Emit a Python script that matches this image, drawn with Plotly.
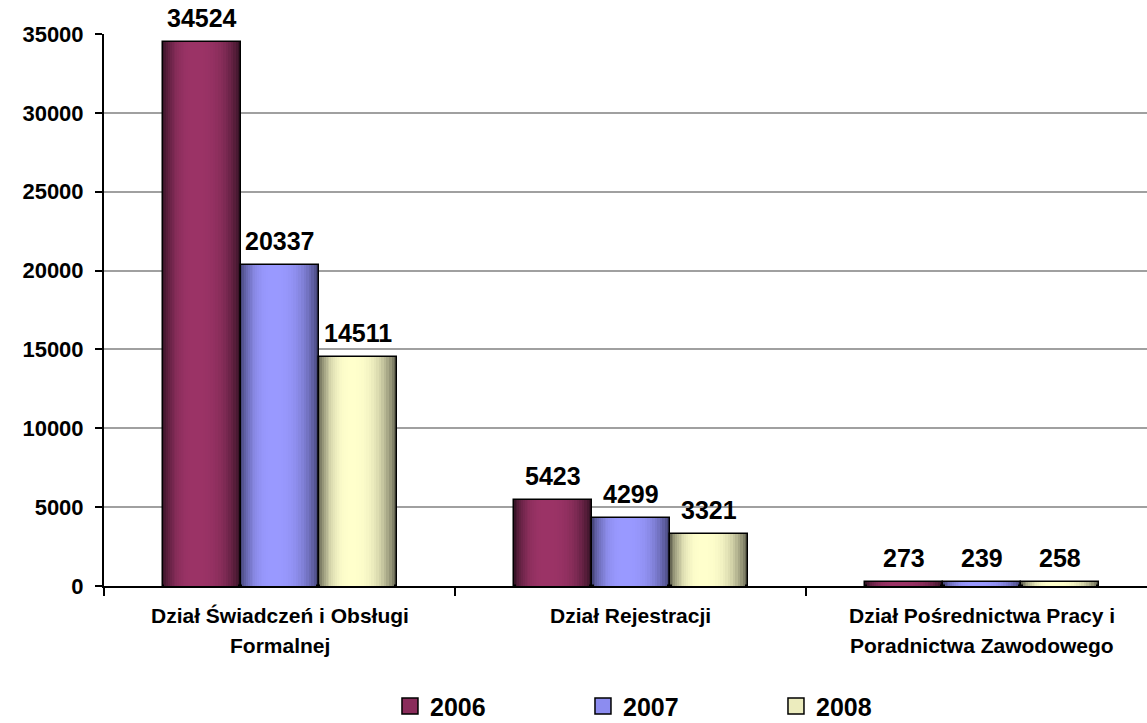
import plotly.graph_objects as go

categories = ["Dział Świadczeń i Obsługi Formalnej", "Dział Rejestracji",
              "Dział Pośrednictwa Pracy i Poradnictwa Zawodowego"]
label_line1 = ["Dział Świadczeń i Obsługi", "Dział Rejestracji", "Dział Pośrednictwa Pracy i"]
label_line2 = ["Formalnej", "", "Poradnictwa Zawodowego"]
years = ["2006", "2007", "2008"]
values_2006 = [34524, 5423, 273]
values_2007 = [20337, 4299, 239]
values_2008 = [14511, 3321, 258]
series = [values_2006, values_2007, values_2008]
y_ticks = [0, 5000, 10000, 15000, 20000, 25000, 30000, 35000]
y_tick_text = ["0", "5000", "10000", "15000", "20000", "25000", "30000", "35000"]

edge_colors = [(58, 20, 40), (72, 72, 125), (105, 105, 85)]
center_colors = [(155, 51, 102), (153, 153, 255), (255, 255, 204)]
legend_colors = ["#8a2c5b", "#8c8cf0", "#ececbe"]

W = 0.222  # bar width in category units
N = 18
PEAK = 0.42

fig = go.Figure()
for s, vals in enumerate(series):
    center = (s - 1) * W
    left0 = center - W / 2
    for k in range(N):
        t = k / N
        f = 1 - (1 - t) ** 3
        e, c = edge_colors[s], center_colors[s]
        col = "rgb(%d,%d,%d)" % tuple(round(e[i] + (c[i] - e[i]) * f) for i in range(3))
        width = W * (1 - t)
        offset = left0 + t * PEAK * W
        outer = k == 0
        fig.add_trace(go.Bar(
            x=categories, y=vals, width=width, offset=offset,
            marker=dict(color=col,
                        line=dict(color="black", width=1.5 if outer else 0)),
            showlegend=False, hoverinfo="skip" if not outer else None,
            name=years[s],
        ))
    # value labels above the bars
    for i, v in enumerate(vals):
        fig.add_annotation(x=i + center, y=v, xref="x", yref="y", text=str(v),
                           showarrow=False, yanchor="bottom", yshift=8,
                           font=dict(family="Arial", size=25, color="black", weight="bold"))
    # legend entry
    fig.add_trace(go.Scatter(
        x=[None], y=[None], name=years[s], mode="markers",
        marker=dict(symbol="square", size=20, color=legend_colors[s],
                    line=dict(color="black", width=1.5)),
        showlegend=True,
    ))

for i, cat in enumerate(categories):
    fig.add_annotation(x=cat, y=-0.053, xref="x", yref="paper", text=label_line1[i],
                       showarrow=False, yanchor="middle",
                       font=dict(family="Arial", size=21, color="black", weight="bold"))
    if label_line2[i]:
        fig.add_annotation(x=cat, y=-0.107, xref="x", yref="paper", text=label_line2[i],
                           showarrow=False, yanchor="middle",
                           font=dict(family="Arial", size=21, color="black", weight="bold"))

fig.update_layout(
    width=1147, height=723,
    margin=dict(l=104, r=0, t=34, b=137, autoexpand=False),
    paper_bgcolor="white", plot_bgcolor="white",
    barmode="overlay", bargap=0,
    font=dict(family="Arial", color="black"),
    legend=dict(orientation="h", xref="container", yref="paper",
                x=0.34, xanchor="left", y=-0.218, yanchor="middle",
                entrywidth=148, entrywidthmode="pixels",
                font=dict(family="Arial", size=25, color="black", weight="bold"),
                itemsizing="trace"),
    xaxis=dict(range=[-0.5, 2.47], tickson="boundaries", ticks="outside", ticklen=8,
               tickwidth=2, tickcolor="black", showticklabels=False,
               showline=True, linecolor="black", linewidth=2, showgrid=False),
    yaxis=dict(range=[0, 35000], tickvals=y_ticks, ticktext=y_tick_text,
               ticks="outside", ticklen=7, ticklabelstandoff=7,
               tickwidth=2, tickcolor="black", showline=True, linecolor="black",
               linewidth=2, showgrid=True, gridcolor="#a0a0a0", gridwidth=2,
               zeroline=False, automargin=False,
               tickfont=dict(family="Arial", size=22, color="black", weight="bold")),
)

fig.write_html("out.html", config={"displayModeBar": False},
               post_script="document.body.style.margin='0';")
